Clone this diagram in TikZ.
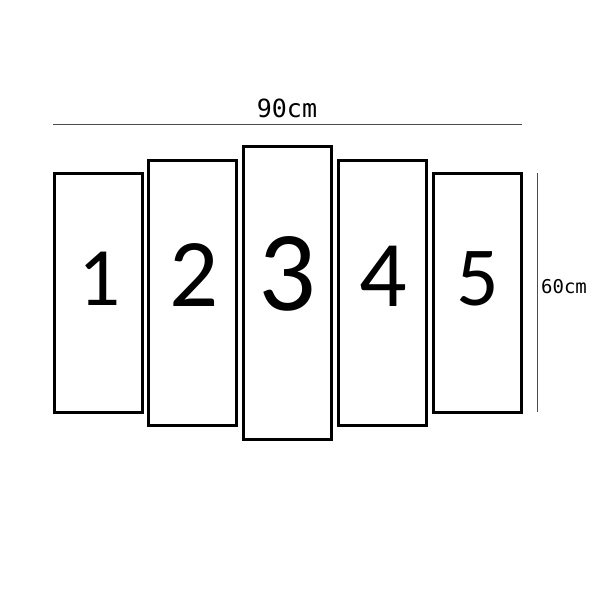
\documentclass[tikz,border=0pt]{standalone}
\usepackage{fontspec}
\newfontfamily\digitfont{Carlito}
\newfontfamily\dimfont{DejaVu Sans Mono}
\begin{document}
\begin{tikzpicture}[x=1pt,y=-1pt,
  panel/.style={draw=black,line width=3pt,fill=white},
  dimline/.style={draw=black!70,line width=0.9pt},
  num/.style={inner sep=0pt,anchor=base},
  dimlabel/.style={font=\dimfont,inner sep=0pt}]
\useasboundingbox (0,0) rectangle (592,592);
\fill[white] (0,0) rectangle (592,592);
% panels
\draw[panel] (54.5,173.5) rectangle (142,412);
\draw[panel] (148.5,160) rectangle (236.5,425.5);
\draw[panel] (243,146.5) rectangle (331.5,439);
\draw[panel] (338.5,160) rectangle (426.5,425.5);
\draw[panel] (433,173.5) rectangle (521,412);
% numbers
\node[num,font=\digitfont\fontsize{83}{83}\selectfont] (n1) at (99.5,305.5) {1};
\node[num,font=\digitfont\fontsize{97}{97}\selectfont] (n2) at (194,306.5) {2};
\node[num,font=\digitfont\fontsize{114}{114}\selectfont] (n3) at (287.5,310.5) {3};
\node[num,font=\digitfont\fontsize{94}{94}\selectfont] (n4) at (383.5,306.5) {4};
\node[num,font=\digitfont\fontsize{84}{84}\selectfont] (n5) at (477.5,305.5) {5};
% dimension lines
\coordinate (h1) at (53,124.5);
\coordinate (h2) at (522,124.5);
\draw[dimline] (h1) -- (h2);
\node[dimlabel,font=\dimfont\fontsize{25}{25}\selectfont] (w) at (287,108) {90cm};
\coordinate (v1) at (537,173);
\coordinate (v2) at (537,412);
\draw[dimline] (v1) -- (v2);
\node[dimlabel,font=\dimfont\fontsize{19}{19}\selectfont] (hgt) at (564,287) {60cm};
\end{tikzpicture}
\end{document}
